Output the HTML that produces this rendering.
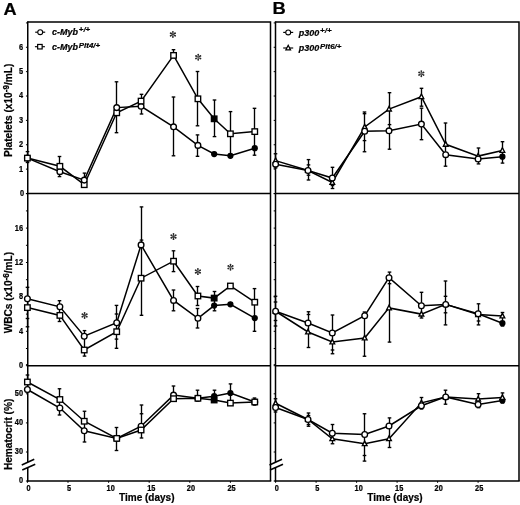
<!DOCTYPE html>
<html><head><meta charset="utf-8"><style>
html,body{margin:0;padding:0;background:#fff;width:520px;height:505px;overflow:hidden}
svg{display:block;font-family:"Liberation Sans", sans-serif;will-change:transform}
text{stroke:#000;stroke-width:0.22px;paint-order:stroke}
</style></head><body>
<svg width="520" height="505" viewBox="0 0 520 505">
<rect width="520" height="505" fill="#fff"/>
<path d="M27.75,22.0H270.5V481.0" fill="none" stroke="#000" stroke-width="1.5"/>
<line x1="27.75" y1="22.00" x2="27.75" y2="461.30" stroke="#000" stroke-width="1.5" stroke-linecap="square"/>
<line x1="27.75" y1="468.40" x2="27.75" y2="481.00" stroke="#000" stroke-width="1.5" stroke-linecap="square"/>
<line x1="27.75" y1="481.00" x2="270.50" y2="481.00" stroke="#000" stroke-width="1.5" stroke-linecap="square"/>
<line x1="27.75" y1="193.50" x2="270.50" y2="193.50" stroke="#000" stroke-width="1.5"/>
<line x1="27.75" y1="365.70" x2="270.50" y2="365.70" stroke="#000" stroke-width="1.5"/>
<line x1="21.75" y1="465.00" x2="34.25" y2="459.20" stroke="#000" stroke-width="1.5"/>
<line x1="22.25" y1="470.00" x2="35.25" y2="464.20" stroke="#000" stroke-width="1.5"/>
<line x1="25.95" y1="193.50" x2="27.75" y2="193.50" stroke="#000" stroke-width="1"/>
<line x1="25.95" y1="169.13" x2="27.75" y2="169.13" stroke="#000" stroke-width="1"/>
<line x1="25.95" y1="144.76" x2="27.75" y2="144.76" stroke="#000" stroke-width="1"/>
<line x1="25.95" y1="120.39" x2="27.75" y2="120.39" stroke="#000" stroke-width="1"/>
<line x1="25.95" y1="96.02" x2="27.75" y2="96.02" stroke="#000" stroke-width="1"/>
<line x1="25.95" y1="71.65" x2="27.75" y2="71.65" stroke="#000" stroke-width="1"/>
<line x1="25.95" y1="47.28" x2="27.75" y2="47.28" stroke="#000" stroke-width="1"/>
<line x1="25.95" y1="22.91" x2="27.75" y2="22.91" stroke="#000" stroke-width="1"/>
<line x1="25.95" y1="365.70" x2="27.75" y2="365.70" stroke="#000" stroke-width="1"/>
<line x1="25.95" y1="348.50" x2="27.75" y2="348.50" stroke="#000" stroke-width="1"/>
<line x1="25.95" y1="331.30" x2="27.75" y2="331.30" stroke="#000" stroke-width="1"/>
<line x1="25.95" y1="314.10" x2="27.75" y2="314.10" stroke="#000" stroke-width="1"/>
<line x1="25.95" y1="296.90" x2="27.75" y2="296.90" stroke="#000" stroke-width="1"/>
<line x1="25.95" y1="279.70" x2="27.75" y2="279.70" stroke="#000" stroke-width="1"/>
<line x1="25.95" y1="262.50" x2="27.75" y2="262.50" stroke="#000" stroke-width="1"/>
<line x1="25.95" y1="245.30" x2="27.75" y2="245.30" stroke="#000" stroke-width="1"/>
<line x1="25.95" y1="228.10" x2="27.75" y2="228.10" stroke="#000" stroke-width="1"/>
<line x1="25.95" y1="210.90" x2="27.75" y2="210.90" stroke="#000" stroke-width="1"/>
<line x1="25.95" y1="193.70" x2="27.75" y2="193.70" stroke="#000" stroke-width="1"/>
<line x1="25.95" y1="452.00" x2="27.75" y2="452.00" stroke="#000" stroke-width="1"/>
<line x1="25.95" y1="422.90" x2="27.75" y2="422.90" stroke="#000" stroke-width="1"/>
<line x1="25.95" y1="393.80" x2="27.75" y2="393.80" stroke="#000" stroke-width="1"/>
<line x1="25.95" y1="364.70" x2="27.75" y2="364.70" stroke="#000" stroke-width="1"/>
<line x1="25.95" y1="481.00" x2="27.75" y2="481.00" stroke="#000" stroke-width="1"/>
<path d="M275.5,22.0H519.0V481.0" fill="none" stroke="#000" stroke-width="1.5"/>
<line x1="275.50" y1="22.00" x2="275.50" y2="461.30" stroke="#000" stroke-width="1.5" stroke-linecap="square"/>
<line x1="275.50" y1="468.40" x2="275.50" y2="481.00" stroke="#000" stroke-width="1.5" stroke-linecap="square"/>
<line x1="275.50" y1="481.00" x2="519.00" y2="481.00" stroke="#000" stroke-width="1.5" stroke-linecap="square"/>
<line x1="275.50" y1="193.50" x2="519.00" y2="193.50" stroke="#000" stroke-width="1.5"/>
<line x1="275.50" y1="365.70" x2="519.00" y2="365.70" stroke="#000" stroke-width="1.5"/>
<line x1="269.50" y1="465.00" x2="282.00" y2="459.20" stroke="#000" stroke-width="1.5"/>
<line x1="270.00" y1="470.00" x2="283.00" y2="464.20" stroke="#000" stroke-width="1.5"/>
<line x1="273.70" y1="193.50" x2="275.50" y2="193.50" stroke="#000" stroke-width="1"/>
<line x1="273.70" y1="169.13" x2="275.50" y2="169.13" stroke="#000" stroke-width="1"/>
<line x1="273.70" y1="144.76" x2="275.50" y2="144.76" stroke="#000" stroke-width="1"/>
<line x1="273.70" y1="120.39" x2="275.50" y2="120.39" stroke="#000" stroke-width="1"/>
<line x1="273.70" y1="96.02" x2="275.50" y2="96.02" stroke="#000" stroke-width="1"/>
<line x1="273.70" y1="71.65" x2="275.50" y2="71.65" stroke="#000" stroke-width="1"/>
<line x1="273.70" y1="47.28" x2="275.50" y2="47.28" stroke="#000" stroke-width="1"/>
<line x1="273.70" y1="22.91" x2="275.50" y2="22.91" stroke="#000" stroke-width="1"/>
<line x1="273.70" y1="365.70" x2="275.50" y2="365.70" stroke="#000" stroke-width="1"/>
<line x1="273.70" y1="348.50" x2="275.50" y2="348.50" stroke="#000" stroke-width="1"/>
<line x1="273.70" y1="331.30" x2="275.50" y2="331.30" stroke="#000" stroke-width="1"/>
<line x1="273.70" y1="314.10" x2="275.50" y2="314.10" stroke="#000" stroke-width="1"/>
<line x1="273.70" y1="296.90" x2="275.50" y2="296.90" stroke="#000" stroke-width="1"/>
<line x1="273.70" y1="279.70" x2="275.50" y2="279.70" stroke="#000" stroke-width="1"/>
<line x1="273.70" y1="262.50" x2="275.50" y2="262.50" stroke="#000" stroke-width="1"/>
<line x1="273.70" y1="245.30" x2="275.50" y2="245.30" stroke="#000" stroke-width="1"/>
<line x1="273.70" y1="228.10" x2="275.50" y2="228.10" stroke="#000" stroke-width="1"/>
<line x1="273.70" y1="210.90" x2="275.50" y2="210.90" stroke="#000" stroke-width="1"/>
<line x1="273.70" y1="193.70" x2="275.50" y2="193.70" stroke="#000" stroke-width="1"/>
<line x1="273.70" y1="452.00" x2="275.50" y2="452.00" stroke="#000" stroke-width="1"/>
<line x1="273.70" y1="422.90" x2="275.50" y2="422.90" stroke="#000" stroke-width="1"/>
<line x1="273.70" y1="393.80" x2="275.50" y2="393.80" stroke="#000" stroke-width="1"/>
<line x1="273.70" y1="364.70" x2="275.50" y2="364.70" stroke="#000" stroke-width="1"/>
<line x1="273.70" y1="481.00" x2="275.50" y2="481.00" stroke="#000" stroke-width="1"/>
<line x1="27.40" y1="481.00" x2="27.40" y2="482.80" stroke="#000" stroke-width="1"/>
<text transform="translate(28.50,490.50) scale(0.92,1.1)" font-size="8" font-weight="bold" text-anchor="middle">0</text>
<line x1="275.60" y1="481.00" x2="275.60" y2="482.80" stroke="#000" stroke-width="1"/>
<text transform="translate(276.70,490.50) scale(0.92,1.1)" font-size="8" font-weight="bold" text-anchor="middle">0</text>
<line x1="68.00" y1="481.00" x2="68.00" y2="482.80" stroke="#000" stroke-width="1"/>
<text transform="translate(69.10,490.50) scale(0.92,1.1)" font-size="8" font-weight="bold" text-anchor="middle">5</text>
<line x1="316.10" y1="481.00" x2="316.10" y2="482.80" stroke="#000" stroke-width="1"/>
<text transform="translate(317.20,490.50) scale(0.92,1.1)" font-size="8" font-weight="bold" text-anchor="middle">5</text>
<line x1="108.60" y1="481.00" x2="108.60" y2="482.80" stroke="#000" stroke-width="1"/>
<text transform="translate(110.70,490.50) scale(0.92,1.1)" font-size="8" font-weight="bold" text-anchor="middle">10</text>
<line x1="356.60" y1="481.00" x2="356.60" y2="482.80" stroke="#000" stroke-width="1"/>
<text transform="translate(358.70,490.50) scale(0.92,1.1)" font-size="8" font-weight="bold" text-anchor="middle">10</text>
<line x1="149.20" y1="481.00" x2="149.20" y2="482.80" stroke="#000" stroke-width="1"/>
<text transform="translate(151.30,490.50) scale(0.92,1.1)" font-size="8" font-weight="bold" text-anchor="middle">15</text>
<line x1="397.10" y1="481.00" x2="397.10" y2="482.80" stroke="#000" stroke-width="1"/>
<text transform="translate(399.20,490.50) scale(0.92,1.1)" font-size="8" font-weight="bold" text-anchor="middle">15</text>
<line x1="189.80" y1="481.00" x2="189.80" y2="482.80" stroke="#000" stroke-width="1"/>
<text transform="translate(190.90,490.50) scale(0.92,1.1)" font-size="8" font-weight="bold" text-anchor="middle">20</text>
<line x1="437.60" y1="481.00" x2="437.60" y2="482.80" stroke="#000" stroke-width="1"/>
<text transform="translate(438.70,490.50) scale(0.92,1.1)" font-size="8" font-weight="bold" text-anchor="middle">20</text>
<line x1="230.40" y1="481.00" x2="230.40" y2="482.80" stroke="#000" stroke-width="1"/>
<text transform="translate(231.50,490.50) scale(0.92,1.1)" font-size="8" font-weight="bold" text-anchor="middle">25</text>
<line x1="478.10" y1="481.00" x2="478.10" y2="482.80" stroke="#000" stroke-width="1"/>
<text transform="translate(479.20,490.50) scale(0.92,1.1)" font-size="8" font-weight="bold" text-anchor="middle">25</text>
<text transform="translate(24.00,195.90) scale(0.92,1.1)" font-size="8" font-weight="bold" text-anchor="end">0</text>
<text transform="translate(23.00,171.53) scale(0.92,1.1)" font-size="8" font-weight="bold" text-anchor="end">1</text>
<text transform="translate(23.00,147.16) scale(0.92,1.1)" font-size="8" font-weight="bold" text-anchor="end">2</text>
<text transform="translate(23.00,122.79) scale(0.92,1.1)" font-size="8" font-weight="bold" text-anchor="end">3</text>
<text transform="translate(23.00,98.42) scale(0.92,1.1)" font-size="8" font-weight="bold" text-anchor="end">4</text>
<text transform="translate(23.00,74.05) scale(0.92,1.1)" font-size="8" font-weight="bold" text-anchor="end">5</text>
<text transform="translate(23.00,49.68) scale(0.92,1.1)" font-size="8" font-weight="bold" text-anchor="end">6</text>
<text transform="translate(23.00,368.10) scale(0.92,1.1)" font-size="8" font-weight="bold" text-anchor="end">0</text>
<text transform="translate(23.00,333.70) scale(0.92,1.1)" font-size="8" font-weight="bold" text-anchor="end">4</text>
<text transform="translate(23.00,299.30) scale(0.92,1.1)" font-size="8" font-weight="bold" text-anchor="end">8</text>
<text transform="translate(23.00,264.90) scale(0.92,1.1)" font-size="8" font-weight="bold" text-anchor="end">12</text>
<text transform="translate(23.00,230.50) scale(0.92,1.1)" font-size="8" font-weight="bold" text-anchor="end">16</text>
<text transform="translate(23.00,454.40) scale(0.92,1.1)" font-size="8" font-weight="bold" text-anchor="end">30</text>
<text transform="translate(23.00,425.30) scale(0.92,1.1)" font-size="8" font-weight="bold" text-anchor="end">40</text>
<text transform="translate(23.00,396.20) scale(0.92,1.1)" font-size="8" font-weight="bold" text-anchor="end">50</text>
<text transform="translate(23.00,483.40) scale(0.92,1.1)" font-size="8" font-weight="bold" text-anchor="end">0</text>
<text transform="translate(12.20,110.30) rotate(-90)" font-size="10.15" font-weight="bold" text-anchor="middle">Platelets (x10<tspan font-size="8.2" dy="-3.0">-9</tspan><tspan dy="3.0">/mL)</tspan></text>
<text transform="translate(12.10,292.60) rotate(-90)" font-size="10.15" font-weight="bold" text-anchor="middle">WBCs (x10<tspan font-size="8.2" dy="-3.0">-6</tspan><tspan dy="3.0">/mL)</tspan></text>
<text transform="translate(11.90,434.40) rotate(-90)" font-size="10.15" font-weight="bold" text-anchor="middle">Hematocrit (%)</text>
<text x="146.80" y="501.00" font-size="10" font-weight="bold" font-style="normal" text-anchor="middle" >Time (days)</text>
<text x="395.00" y="501.00" font-size="10" font-weight="bold" font-style="normal" text-anchor="middle" >Time (days)</text>
<text transform="translate(3.5,15.0) scale(1.07,1)" font-size="17" font-weight="bold">A</text>
<text transform="translate(272.4,14.4) scale(1.08,1)" font-size="17" font-weight="bold">B</text>
<line x1="35.20" y1="32.20" x2="45.20" y2="32.20" stroke="#000" stroke-width="1.15"/>
<circle cx="40.20" cy="32.20" r="2.45" fill="#fff" stroke="#000" stroke-width="1.1"/>
<text x="52.00" y="34.80" font-size="9" font-weight="bold" font-style="italic">c-Myb<tspan font-size="7.9" dx="0.8" dy="-2.9">+/+</tspan></text>
<line x1="34.90" y1="46.70" x2="44.90" y2="46.70" stroke="#000" stroke-width="1.15"/>
<rect x="37.65" y="44.45" width="4.50" height="4.50" fill="#fff" stroke="#000" stroke-width="1.2"/>
<text x="52.00" y="50.00" font-size="9" font-weight="bold" font-style="italic">c-Myb<tspan font-size="7.9" dx="0.8" dy="-2.2">Plt4/+</tspan></text>
<line x1="283.20" y1="32.40" x2="293.20" y2="32.40" stroke="#000" stroke-width="1.15"/>
<circle cx="288.20" cy="32.40" r="2.45" fill="#fff" stroke="#000" stroke-width="1.1"/>
<text x="298.80" y="35.70" font-size="9" font-weight="bold" font-style="italic">p300<tspan font-size="7.9" dx="0.8" dy="-3.1">+/+</tspan></text>
<line x1="283.20" y1="48.00" x2="293.20" y2="48.00" stroke="#000" stroke-width="1.15"/>
<polygon points="288.20,45.32 290.57,49.91 285.83,49.91" fill="#fff" stroke="#000" stroke-width="1.2" stroke-linejoin="miter"/>
<text x="298.80" y="51.30" font-size="9" font-weight="bold" font-style="italic">p300<tspan font-size="7.9" dx="0.8" dy="-2.4">Plt6/+</tspan></text>
<line x1="27.50" y1="151.60" x2="27.50" y2="162.50" stroke="#000" stroke-width="1.35"/>
<line x1="25.70" y1="151.60" x2="29.30" y2="151.60" stroke="#000" stroke-width="1.35"/>
<line x1="25.70" y1="162.50" x2="29.30" y2="162.50" stroke="#000" stroke-width="1.35"/>
<line x1="59.50" y1="156.50" x2="59.50" y2="176.60" stroke="#000" stroke-width="1.35"/>
<line x1="57.70" y1="156.50" x2="61.30" y2="156.50" stroke="#000" stroke-width="1.35"/>
<line x1="57.70" y1="176.60" x2="61.30" y2="176.60" stroke="#000" stroke-width="1.35"/>
<line x1="84.50" y1="173.10" x2="84.50" y2="186.50" stroke="#000" stroke-width="1.35"/>
<line x1="82.70" y1="173.10" x2="86.30" y2="173.10" stroke="#000" stroke-width="1.35"/>
<line x1="82.70" y1="186.50" x2="86.30" y2="186.50" stroke="#000" stroke-width="1.35"/>
<line x1="116.50" y1="81.80" x2="116.50" y2="132.70" stroke="#000" stroke-width="1.35"/>
<line x1="114.70" y1="81.80" x2="118.30" y2="81.80" stroke="#000" stroke-width="1.35"/>
<line x1="114.70" y1="132.70" x2="118.30" y2="132.70" stroke="#000" stroke-width="1.35"/>
<line x1="141.50" y1="94.30" x2="141.50" y2="114.00" stroke="#000" stroke-width="1.35"/>
<line x1="139.70" y1="94.30" x2="143.30" y2="94.30" stroke="#000" stroke-width="1.35"/>
<line x1="139.70" y1="114.00" x2="143.30" y2="114.00" stroke="#000" stroke-width="1.35"/>
<line x1="173.50" y1="49.70" x2="173.50" y2="57.00" stroke="#000" stroke-width="1.35"/>
<line x1="171.70" y1="49.70" x2="175.30" y2="49.70" stroke="#000" stroke-width="1.35"/>
<line x1="171.70" y1="57.00" x2="175.30" y2="57.00" stroke="#000" stroke-width="1.35"/>
<line x1="173.50" y1="97.00" x2="173.50" y2="155.80" stroke="#000" stroke-width="1.35"/>
<line x1="171.70" y1="97.00" x2="175.30" y2="97.00" stroke="#000" stroke-width="1.35"/>
<line x1="171.70" y1="155.80" x2="175.30" y2="155.80" stroke="#000" stroke-width="1.35"/>
<line x1="197.50" y1="71.50" x2="197.50" y2="125.80" stroke="#000" stroke-width="1.35"/>
<line x1="195.70" y1="71.50" x2="199.30" y2="71.50" stroke="#000" stroke-width="1.35"/>
<line x1="195.70" y1="125.80" x2="199.30" y2="125.80" stroke="#000" stroke-width="1.35"/>
<line x1="197.50" y1="134.90" x2="197.50" y2="156.30" stroke="#000" stroke-width="1.35"/>
<line x1="195.70" y1="134.90" x2="199.30" y2="134.90" stroke="#000" stroke-width="1.35"/>
<line x1="195.70" y1="156.30" x2="199.30" y2="156.30" stroke="#000" stroke-width="1.35"/>
<line x1="214.50" y1="100.00" x2="214.50" y2="136.60" stroke="#000" stroke-width="1.35"/>
<line x1="212.70" y1="100.00" x2="216.30" y2="100.00" stroke="#000" stroke-width="1.35"/>
<line x1="212.70" y1="136.60" x2="216.30" y2="136.60" stroke="#000" stroke-width="1.35"/>
<line x1="230.50" y1="111.60" x2="230.50" y2="155.80" stroke="#000" stroke-width="1.35"/>
<line x1="228.70" y1="111.60" x2="232.30" y2="111.60" stroke="#000" stroke-width="1.35"/>
<line x1="228.70" y1="155.80" x2="232.30" y2="155.80" stroke="#000" stroke-width="1.35"/>
<line x1="254.50" y1="108.30" x2="254.50" y2="155.20" stroke="#000" stroke-width="1.35"/>
<line x1="252.70" y1="108.30" x2="256.30" y2="108.30" stroke="#000" stroke-width="1.35"/>
<line x1="252.70" y1="155.20" x2="256.30" y2="155.20" stroke="#000" stroke-width="1.35"/>
<polyline points="27.40,158.10 59.88,166.30 84.24,184.70 116.72,112.80 141.08,101.10 173.56,55.40 197.92,98.80 214.16,118.80 230.40,133.80 254.76,131.60" fill="none" stroke="#000" stroke-width="1.5" stroke-linejoin="miter"/>
<polyline points="27.40,158.10 59.88,171.70 84.24,180.10 116.72,107.60 141.08,106.30 173.56,126.80 197.92,145.40 214.16,154.00 230.40,155.80 254.76,148.20" fill="none" stroke="#000" stroke-width="1.5" stroke-linejoin="miter"/>
<circle cx="27.40" cy="158.10" r="2.85" fill="#fff" stroke="#000" stroke-width="1.35"/>
<rect x="24.65" y="155.35" width="5.50" height="5.50" fill="#fff" stroke="#000" stroke-width="1.35"/>
<circle cx="59.88" cy="171.70" r="2.85" fill="#fff" stroke="#000" stroke-width="1.35"/>
<rect x="57.13" y="163.55" width="5.50" height="5.50" fill="#fff" stroke="#000" stroke-width="1.35"/>
<rect x="81.49" y="181.95" width="5.50" height="5.50" fill="#fff" stroke="#000" stroke-width="1.35"/>
<circle cx="84.24" cy="180.10" r="2.85" fill="#fff" stroke="#000" stroke-width="1.35"/>
<rect x="113.97" y="110.05" width="5.50" height="5.50" fill="#fff" stroke="#000" stroke-width="1.35"/>
<circle cx="116.72" cy="107.60" r="2.85" fill="#fff" stroke="#000" stroke-width="1.35"/>
<circle cx="141.08" cy="106.30" r="2.85" fill="#fff" stroke="#000" stroke-width="1.35"/>
<rect x="138.33" y="98.35" width="5.50" height="5.50" fill="#fff" stroke="#000" stroke-width="1.35"/>
<circle cx="173.56" cy="126.80" r="2.85" fill="#fff" stroke="#000" stroke-width="1.35"/>
<rect x="170.81" y="52.65" width="5.50" height="5.50" fill="#fff" stroke="#000" stroke-width="1.35"/>
<circle cx="197.92" cy="145.40" r="2.85" fill="#fff" stroke="#000" stroke-width="1.35"/>
<rect x="195.17" y="96.05" width="5.50" height="5.50" fill="#fff" stroke="#000" stroke-width="1.35"/>
<circle cx="214.16" cy="154.00" r="2.45" fill="#000" stroke="#000" stroke-width="1.35"/>
<rect x="211.41" y="116.05" width="5.50" height="5.50" fill="#000" stroke="#000" stroke-width="1.35"/>
<circle cx="230.40" cy="155.80" r="2.45" fill="#000" stroke="#000" stroke-width="1.35"/>
<rect x="227.65" y="131.05" width="5.50" height="5.50" fill="#fff" stroke="#000" stroke-width="1.35"/>
<circle cx="254.76" cy="148.20" r="2.45" fill="#000" stroke="#000" stroke-width="1.35"/>
<rect x="252.01" y="128.85" width="5.50" height="5.50" fill="#fff" stroke="#000" stroke-width="1.35"/>
<path d="M172.98,34.40L173.80,31.80A0.9,0.9 0 0 0 172.00,31.80L172.82,34.40ZM172.94,34.33L171.10,32.32A0.9,0.9 0 0 0 170.20,33.88L172.86,34.47ZM172.86,34.33L170.20,34.92A0.9,0.9 0 0 0 171.10,36.48L172.94,34.47ZM172.82,34.40L172.00,37.00A0.9,0.9 0 0 0 173.80,37.00L172.98,34.40ZM172.86,34.47L174.70,36.48A0.9,0.9 0 0 0 175.60,34.92L172.94,34.33ZM172.94,34.47L175.60,33.88A0.9,0.9 0 0 0 174.70,32.32L172.86,34.33Z" fill="#2a2a2a"/>
<path d="M198.28,57.20L199.10,54.60A0.9,0.9 0 0 0 197.30,54.60L198.12,57.20ZM198.24,57.13L196.40,55.12A0.9,0.9 0 0 0 195.50,56.68L198.16,57.27ZM198.16,57.13L195.50,57.72A0.9,0.9 0 0 0 196.40,59.28L198.24,57.27ZM198.12,57.20L197.30,59.80A0.9,0.9 0 0 0 199.10,59.80L198.28,57.20ZM198.16,57.27L200.00,59.28A0.9,0.9 0 0 0 200.90,57.72L198.24,57.13ZM198.24,57.27L200.90,56.68A0.9,0.9 0 0 0 200.00,55.12L198.16,57.13Z" fill="#2a2a2a"/>
<line x1="27.50" y1="287.30" x2="27.50" y2="326.80" stroke="#000" stroke-width="1.35"/>
<line x1="25.70" y1="287.30" x2="29.30" y2="287.30" stroke="#000" stroke-width="1.35"/>
<line x1="25.70" y1="326.80" x2="29.30" y2="326.80" stroke="#000" stroke-width="1.35"/>
<line x1="59.50" y1="300.70" x2="59.50" y2="321.50" stroke="#000" stroke-width="1.35"/>
<line x1="57.70" y1="300.70" x2="61.30" y2="300.70" stroke="#000" stroke-width="1.35"/>
<line x1="57.70" y1="321.50" x2="61.30" y2="321.50" stroke="#000" stroke-width="1.35"/>
<line x1="84.50" y1="330.60" x2="84.50" y2="356.10" stroke="#000" stroke-width="1.35"/>
<line x1="82.70" y1="330.60" x2="86.30" y2="330.60" stroke="#000" stroke-width="1.35"/>
<line x1="82.70" y1="356.10" x2="86.30" y2="356.10" stroke="#000" stroke-width="1.35"/>
<line x1="116.50" y1="305.40" x2="116.50" y2="348.30" stroke="#000" stroke-width="1.35"/>
<line x1="114.70" y1="305.40" x2="118.30" y2="305.40" stroke="#000" stroke-width="1.35"/>
<line x1="114.70" y1="348.30" x2="118.30" y2="348.30" stroke="#000" stroke-width="1.35"/>
<line x1="141.50" y1="206.90" x2="141.50" y2="315.30" stroke="#000" stroke-width="1.35"/>
<line x1="139.70" y1="206.90" x2="143.30" y2="206.90" stroke="#000" stroke-width="1.35"/>
<line x1="139.70" y1="315.30" x2="143.30" y2="315.30" stroke="#000" stroke-width="1.35"/>
<line x1="173.50" y1="250.80" x2="173.50" y2="271.60" stroke="#000" stroke-width="1.35"/>
<line x1="171.70" y1="250.80" x2="175.30" y2="250.80" stroke="#000" stroke-width="1.35"/>
<line x1="171.70" y1="271.60" x2="175.30" y2="271.60" stroke="#000" stroke-width="1.35"/>
<line x1="173.50" y1="290.00" x2="173.50" y2="310.80" stroke="#000" stroke-width="1.35"/>
<line x1="171.70" y1="290.00" x2="175.30" y2="290.00" stroke="#000" stroke-width="1.35"/>
<line x1="171.70" y1="310.80" x2="175.30" y2="310.80" stroke="#000" stroke-width="1.35"/>
<line x1="197.50" y1="286.50" x2="197.50" y2="305.50" stroke="#000" stroke-width="1.35"/>
<line x1="195.70" y1="286.50" x2="199.30" y2="286.50" stroke="#000" stroke-width="1.35"/>
<line x1="195.70" y1="305.50" x2="199.30" y2="305.50" stroke="#000" stroke-width="1.35"/>
<line x1="197.50" y1="308.50" x2="197.50" y2="328.00" stroke="#000" stroke-width="1.35"/>
<line x1="195.70" y1="308.50" x2="199.30" y2="308.50" stroke="#000" stroke-width="1.35"/>
<line x1="195.70" y1="328.00" x2="199.30" y2="328.00" stroke="#000" stroke-width="1.35"/>
<line x1="214.50" y1="291.50" x2="214.50" y2="310.80" stroke="#000" stroke-width="1.35"/>
<line x1="212.70" y1="291.50" x2="216.30" y2="291.50" stroke="#000" stroke-width="1.35"/>
<line x1="212.70" y1="310.80" x2="216.30" y2="310.80" stroke="#000" stroke-width="1.35"/>
<line x1="254.50" y1="288.60" x2="254.50" y2="331.30" stroke="#000" stroke-width="1.35"/>
<line x1="252.70" y1="288.60" x2="256.30" y2="288.60" stroke="#000" stroke-width="1.35"/>
<line x1="252.70" y1="331.30" x2="256.30" y2="331.30" stroke="#000" stroke-width="1.35"/>
<line x1="25.70" y1="318.50" x2="29.30" y2="318.50" stroke="#000" stroke-width="1.35"/>
<line x1="114.70" y1="314.00" x2="118.30" y2="314.00" stroke="#000" stroke-width="1.35"/>
<line x1="114.70" y1="339.10" x2="118.30" y2="339.10" stroke="#000" stroke-width="1.35"/>
<line x1="139.70" y1="240.10" x2="143.30" y2="240.10" stroke="#000" stroke-width="1.35"/>
<polyline points="27.40,298.70 59.88,306.80 84.24,336.20 116.72,322.80 141.08,244.90 173.56,300.40 197.92,318.30 214.16,305.60 230.40,304.30 254.76,318.10" fill="none" stroke="#000" stroke-width="1.5" stroke-linejoin="miter"/>
<polyline points="27.40,307.60 59.88,315.40 84.24,350.00 116.72,331.70 141.08,278.20 173.56,261.20 197.92,296.00 214.16,298.10 230.40,286.00 254.76,302.20" fill="none" stroke="#000" stroke-width="1.5" stroke-linejoin="miter"/>
<rect x="24.65" y="304.85" width="5.50" height="5.50" fill="#fff" stroke="#000" stroke-width="1.35"/>
<circle cx="27.40" cy="298.70" r="2.85" fill="#fff" stroke="#000" stroke-width="1.35"/>
<rect x="57.13" y="312.65" width="5.50" height="5.50" fill="#fff" stroke="#000" stroke-width="1.35"/>
<circle cx="59.88" cy="306.80" r="2.85" fill="#fff" stroke="#000" stroke-width="1.35"/>
<rect x="81.49" y="347.25" width="5.50" height="5.50" fill="#fff" stroke="#000" stroke-width="1.35"/>
<circle cx="84.24" cy="336.20" r="2.85" fill="#fff" stroke="#000" stroke-width="1.35"/>
<rect x="113.97" y="328.95" width="5.50" height="5.50" fill="#fff" stroke="#000" stroke-width="1.35"/>
<circle cx="116.72" cy="322.80" r="2.85" fill="#fff" stroke="#000" stroke-width="1.35"/>
<rect x="138.33" y="275.45" width="5.50" height="5.50" fill="#fff" stroke="#000" stroke-width="1.35"/>
<circle cx="141.08" cy="244.90" r="2.85" fill="#fff" stroke="#000" stroke-width="1.35"/>
<rect x="170.81" y="258.45" width="5.50" height="5.50" fill="#fff" stroke="#000" stroke-width="1.35"/>
<circle cx="173.56" cy="300.40" r="2.85" fill="#fff" stroke="#000" stroke-width="1.35"/>
<rect x="195.17" y="293.25" width="5.50" height="5.50" fill="#fff" stroke="#000" stroke-width="1.35"/>
<circle cx="197.92" cy="318.30" r="2.85" fill="#fff" stroke="#000" stroke-width="1.35"/>
<rect x="211.41" y="295.35" width="5.50" height="5.50" fill="#000" stroke="#000" stroke-width="1.35"/>
<circle cx="214.16" cy="305.60" r="2.45" fill="#000" stroke="#000" stroke-width="1.35"/>
<rect x="227.65" y="283.25" width="5.50" height="5.50" fill="#fff" stroke="#000" stroke-width="1.35"/>
<circle cx="230.40" cy="304.30" r="2.45" fill="#000" stroke="#000" stroke-width="1.35"/>
<rect x="252.01" y="299.45" width="5.50" height="5.50" fill="#fff" stroke="#000" stroke-width="1.35"/>
<circle cx="254.76" cy="318.10" r="2.45" fill="#000" stroke="#000" stroke-width="1.35"/>
<path d="M84.68,315.40L85.50,312.80A0.9,0.9 0 0 0 83.70,312.80L84.52,315.40ZM84.64,315.33L82.80,313.32A0.9,0.9 0 0 0 81.90,314.88L84.56,315.47ZM84.56,315.33L81.90,315.92A0.9,0.9 0 0 0 82.80,317.48L84.64,315.47ZM84.52,315.40L83.70,318.00A0.9,0.9 0 0 0 85.50,318.00L84.68,315.40ZM84.56,315.47L86.40,317.48A0.9,0.9 0 0 0 87.30,315.92L84.64,315.33ZM84.64,315.47L87.30,314.88A0.9,0.9 0 0 0 86.40,313.32L84.56,315.33Z" fill="#2a2a2a"/>
<path d="M173.58,236.60L174.40,234.00A0.9,0.9 0 0 0 172.60,234.00L173.42,236.60ZM173.54,236.53L171.70,234.52A0.9,0.9 0 0 0 170.80,236.08L173.46,236.67ZM173.46,236.53L170.80,237.12A0.9,0.9 0 0 0 171.70,238.68L173.54,236.67ZM173.42,236.60L172.60,239.20A0.9,0.9 0 0 0 174.40,239.20L173.58,236.60ZM173.46,236.67L175.30,238.68A0.9,0.9 0 0 0 176.20,237.12L173.54,236.53ZM173.54,236.67L176.20,236.08A0.9,0.9 0 0 0 175.30,234.52L173.46,236.53Z" fill="#2a2a2a"/>
<path d="M197.98,271.60L198.80,269.00A0.9,0.9 0 0 0 197.00,269.00L197.82,271.60ZM197.94,271.53L196.10,269.52A0.9,0.9 0 0 0 195.20,271.08L197.86,271.67ZM197.86,271.53L195.20,272.12A0.9,0.9 0 0 0 196.10,273.68L197.94,271.67ZM197.82,271.60L197.00,274.20A0.9,0.9 0 0 0 198.80,274.20L197.98,271.60ZM197.86,271.67L199.70,273.68A0.9,0.9 0 0 0 200.60,272.12L197.94,271.53ZM197.94,271.67L200.60,271.08A0.9,0.9 0 0 0 199.70,269.52L197.86,271.53Z" fill="#2a2a2a"/>
<path d="M230.58,267.20L231.40,264.60A0.9,0.9 0 0 0 229.60,264.60L230.42,267.20ZM230.54,267.13L228.70,265.12A0.9,0.9 0 0 0 227.80,266.68L230.46,267.27ZM230.46,267.13L227.80,267.72A0.9,0.9 0 0 0 228.70,269.28L230.54,267.27ZM230.42,267.20L229.60,269.80A0.9,0.9 0 0 0 231.40,269.80L230.58,267.20ZM230.46,267.27L232.30,269.28A0.9,0.9 0 0 0 233.20,267.72L230.54,267.13ZM230.54,267.27L233.20,266.68A0.9,0.9 0 0 0 232.30,265.12L230.46,267.13Z" fill="#2a2a2a"/>
<line x1="27.50" y1="375.00" x2="27.50" y2="392.00" stroke="#000" stroke-width="1.35"/>
<line x1="25.70" y1="375.00" x2="29.30" y2="375.00" stroke="#000" stroke-width="1.35"/>
<line x1="25.70" y1="392.00" x2="29.30" y2="392.00" stroke="#000" stroke-width="1.35"/>
<line x1="59.50" y1="388.75" x2="59.50" y2="415.00" stroke="#000" stroke-width="1.35"/>
<line x1="57.70" y1="388.75" x2="61.30" y2="388.75" stroke="#000" stroke-width="1.35"/>
<line x1="57.70" y1="415.00" x2="61.30" y2="415.00" stroke="#000" stroke-width="1.35"/>
<line x1="84.50" y1="411.25" x2="84.50" y2="442.00" stroke="#000" stroke-width="1.35"/>
<line x1="82.70" y1="411.25" x2="86.30" y2="411.25" stroke="#000" stroke-width="1.35"/>
<line x1="82.70" y1="442.00" x2="86.30" y2="442.00" stroke="#000" stroke-width="1.35"/>
<line x1="116.50" y1="427.50" x2="116.50" y2="450.50" stroke="#000" stroke-width="1.35"/>
<line x1="114.70" y1="427.50" x2="118.30" y2="427.50" stroke="#000" stroke-width="1.35"/>
<line x1="114.70" y1="450.50" x2="118.30" y2="450.50" stroke="#000" stroke-width="1.35"/>
<line x1="141.50" y1="405.00" x2="141.50" y2="438.00" stroke="#000" stroke-width="1.35"/>
<line x1="139.70" y1="405.00" x2="143.30" y2="405.00" stroke="#000" stroke-width="1.35"/>
<line x1="139.70" y1="438.00" x2="143.30" y2="438.00" stroke="#000" stroke-width="1.35"/>
<line x1="173.50" y1="386.00" x2="173.50" y2="400.00" stroke="#000" stroke-width="1.35"/>
<line x1="171.70" y1="386.00" x2="175.30" y2="386.00" stroke="#000" stroke-width="1.35"/>
<line x1="171.70" y1="400.00" x2="175.30" y2="400.00" stroke="#000" stroke-width="1.35"/>
<line x1="197.50" y1="390.20" x2="197.50" y2="401.00" stroke="#000" stroke-width="1.35"/>
<line x1="195.70" y1="390.20" x2="199.30" y2="390.20" stroke="#000" stroke-width="1.35"/>
<line x1="195.70" y1="401.00" x2="199.30" y2="401.00" stroke="#000" stroke-width="1.35"/>
<line x1="214.50" y1="390.20" x2="214.50" y2="402.00" stroke="#000" stroke-width="1.35"/>
<line x1="212.70" y1="390.20" x2="216.30" y2="390.20" stroke="#000" stroke-width="1.35"/>
<line x1="212.70" y1="402.00" x2="216.30" y2="402.00" stroke="#000" stroke-width="1.35"/>
<line x1="230.50" y1="383.90" x2="230.50" y2="405.00" stroke="#000" stroke-width="1.35"/>
<line x1="228.70" y1="383.90" x2="232.30" y2="383.90" stroke="#000" stroke-width="1.35"/>
<line x1="228.70" y1="405.00" x2="232.30" y2="405.00" stroke="#000" stroke-width="1.35"/>
<line x1="254.50" y1="398.00" x2="254.50" y2="405.00" stroke="#000" stroke-width="1.35"/>
<line x1="252.70" y1="398.00" x2="256.30" y2="398.00" stroke="#000" stroke-width="1.35"/>
<line x1="252.70" y1="405.00" x2="256.30" y2="405.00" stroke="#000" stroke-width="1.35"/>
<line x1="139.70" y1="413.75" x2="143.30" y2="413.75" stroke="#000" stroke-width="1.35"/>
<polyline points="27.40,382.00 59.88,399.50 84.24,421.25 116.72,438.40 141.08,430.00 173.56,398.70 197.92,398.30 214.16,400.00 230.40,403.10 254.76,402.00" fill="none" stroke="#000" stroke-width="1.5" stroke-linejoin="miter"/>
<polyline points="27.40,389.50 59.88,408.00 84.24,430.75 116.72,438.40 141.08,426.25 173.56,395.10 197.92,398.30 214.16,396.20 230.40,393.00 254.76,402.00" fill="none" stroke="#000" stroke-width="1.5" stroke-linejoin="miter"/>
<circle cx="27.40" cy="389.50" r="2.85" fill="#fff" stroke="#000" stroke-width="1.35"/>
<rect x="24.65" y="379.25" width="5.50" height="5.50" fill="#fff" stroke="#000" stroke-width="1.35"/>
<circle cx="59.88" cy="408.00" r="2.85" fill="#fff" stroke="#000" stroke-width="1.35"/>
<rect x="57.13" y="396.75" width="5.50" height="5.50" fill="#fff" stroke="#000" stroke-width="1.35"/>
<circle cx="84.24" cy="430.75" r="2.85" fill="#fff" stroke="#000" stroke-width="1.35"/>
<rect x="81.49" y="418.50" width="5.50" height="5.50" fill="#fff" stroke="#000" stroke-width="1.35"/>
<circle cx="116.72" cy="438.40" r="2.85" fill="#fff" stroke="#000" stroke-width="1.35"/>
<rect x="113.97" y="435.65" width="5.50" height="5.50" fill="#fff" stroke="#000" stroke-width="1.35"/>
<circle cx="141.08" cy="426.25" r="2.85" fill="#fff" stroke="#000" stroke-width="1.35"/>
<rect x="138.33" y="427.25" width="5.50" height="5.50" fill="#fff" stroke="#000" stroke-width="1.35"/>
<circle cx="173.56" cy="395.10" r="2.85" fill="#fff" stroke="#000" stroke-width="1.35"/>
<rect x="170.81" y="395.95" width="5.50" height="5.50" fill="#fff" stroke="#000" stroke-width="1.35"/>
<circle cx="197.92" cy="398.30" r="2.85" fill="#fff" stroke="#000" stroke-width="1.35"/>
<rect x="195.17" y="395.55" width="5.50" height="5.50" fill="#fff" stroke="#000" stroke-width="1.35"/>
<circle cx="214.16" cy="396.20" r="2.45" fill="#000" stroke="#000" stroke-width="1.35"/>
<rect x="211.41" y="397.25" width="5.50" height="5.50" fill="#000" stroke="#000" stroke-width="1.35"/>
<circle cx="230.40" cy="393.00" r="2.45" fill="#000" stroke="#000" stroke-width="1.35"/>
<rect x="227.65" y="400.35" width="5.50" height="5.50" fill="#fff" stroke="#000" stroke-width="1.35"/>
<circle cx="254.76" cy="402.00" r="2.85" fill="#fff" stroke="#000" stroke-width="1.35"/>
<rect x="252.01" y="399.25" width="5.50" height="5.50" fill="#fff" stroke="#000" stroke-width="1.35"/>
<line x1="275.50" y1="153.75" x2="275.50" y2="168.00" stroke="#000" stroke-width="1.35"/>
<line x1="273.70" y1="153.75" x2="277.30" y2="153.75" stroke="#000" stroke-width="1.35"/>
<line x1="273.70" y1="168.00" x2="277.30" y2="168.00" stroke="#000" stroke-width="1.35"/>
<line x1="308.50" y1="159.60" x2="308.50" y2="180.00" stroke="#000" stroke-width="1.35"/>
<line x1="306.70" y1="159.60" x2="310.30" y2="159.60" stroke="#000" stroke-width="1.35"/>
<line x1="306.70" y1="180.00" x2="310.30" y2="180.00" stroke="#000" stroke-width="1.35"/>
<line x1="332.50" y1="167.30" x2="332.50" y2="188.50" stroke="#000" stroke-width="1.35"/>
<line x1="330.70" y1="167.30" x2="334.30" y2="167.30" stroke="#000" stroke-width="1.35"/>
<line x1="330.70" y1="188.50" x2="334.30" y2="188.50" stroke="#000" stroke-width="1.35"/>
<line x1="364.50" y1="112.00" x2="364.50" y2="151.75" stroke="#000" stroke-width="1.35"/>
<line x1="362.70" y1="112.00" x2="366.30" y2="112.00" stroke="#000" stroke-width="1.35"/>
<line x1="362.70" y1="151.75" x2="366.30" y2="151.75" stroke="#000" stroke-width="1.35"/>
<line x1="389.50" y1="92.70" x2="389.50" y2="149.20" stroke="#000" stroke-width="1.35"/>
<line x1="387.70" y1="92.70" x2="391.30" y2="92.70" stroke="#000" stroke-width="1.35"/>
<line x1="387.70" y1="149.20" x2="391.30" y2="149.20" stroke="#000" stroke-width="1.35"/>
<line x1="421.50" y1="88.30" x2="421.50" y2="106.20" stroke="#000" stroke-width="1.35"/>
<line x1="419.70" y1="88.30" x2="423.30" y2="88.30" stroke="#000" stroke-width="1.35"/>
<line x1="419.70" y1="106.20" x2="423.30" y2="106.20" stroke="#000" stroke-width="1.35"/>
<line x1="421.50" y1="108.20" x2="421.50" y2="139.70" stroke="#000" stroke-width="1.35"/>
<line x1="419.70" y1="108.20" x2="423.30" y2="108.20" stroke="#000" stroke-width="1.35"/>
<line x1="419.70" y1="139.70" x2="423.30" y2="139.70" stroke="#000" stroke-width="1.35"/>
<line x1="445.50" y1="123.00" x2="445.50" y2="166.20" stroke="#000" stroke-width="1.35"/>
<line x1="443.70" y1="123.00" x2="447.30" y2="123.00" stroke="#000" stroke-width="1.35"/>
<line x1="443.70" y1="166.20" x2="447.30" y2="166.20" stroke="#000" stroke-width="1.35"/>
<line x1="478.50" y1="148.00" x2="478.50" y2="163.90" stroke="#000" stroke-width="1.35"/>
<line x1="476.70" y1="148.00" x2="480.30" y2="148.00" stroke="#000" stroke-width="1.35"/>
<line x1="476.70" y1="163.90" x2="480.30" y2="163.90" stroke="#000" stroke-width="1.35"/>
<line x1="502.50" y1="141.70" x2="502.50" y2="163.10" stroke="#000" stroke-width="1.35"/>
<line x1="500.70" y1="141.70" x2="504.30" y2="141.70" stroke="#000" stroke-width="1.35"/>
<line x1="500.70" y1="163.10" x2="504.30" y2="163.10" stroke="#000" stroke-width="1.35"/>
<line x1="306.70" y1="164.90" x2="310.30" y2="164.90" stroke="#000" stroke-width="1.35"/>
<line x1="306.70" y1="175.20" x2="310.30" y2="175.20" stroke="#000" stroke-width="1.35"/>
<line x1="330.70" y1="185.60" x2="334.30" y2="185.60" stroke="#000" stroke-width="1.35"/>
<line x1="362.70" y1="113.70" x2="366.30" y2="113.70" stroke="#000" stroke-width="1.35"/>
<line x1="362.70" y1="140.60" x2="366.30" y2="140.60" stroke="#000" stroke-width="1.35"/>
<line x1="387.70" y1="124.60" x2="391.30" y2="124.60" stroke="#000" stroke-width="1.35"/>
<polyline points="275.60,164.20 308.00,170.50 332.30,178.00 364.70,131.25 389.00,130.80 421.40,124.10 445.70,154.70 478.10,159.00 502.40,156.70" fill="none" stroke="#000" stroke-width="1.5" stroke-linejoin="miter"/>
<polyline points="275.60,160.60 308.00,170.50 332.30,182.50 364.70,127.00 389.00,109.10 421.40,96.70 445.70,144.30 478.10,156.10 502.40,150.40" fill="none" stroke="#000" stroke-width="1.5" stroke-linejoin="miter"/>
<polygon points="275.60,157.92 277.97,162.51 273.23,162.51" fill="#fff" stroke="#000" stroke-width="1.35" stroke-linejoin="miter"/>
<circle cx="275.60" cy="164.20" r="2.85" fill="#fff" stroke="#000" stroke-width="1.35"/>
<polygon points="308.00,167.82 310.37,172.41 305.63,172.41" fill="#fff" stroke="#000" stroke-width="1.35" stroke-linejoin="miter"/>
<circle cx="308.00" cy="170.50" r="2.85" fill="#fff" stroke="#000" stroke-width="1.35"/>
<polygon points="332.30,179.82 334.67,184.41 329.93,184.41" fill="#fff" stroke="#000" stroke-width="1.35" stroke-linejoin="miter"/>
<circle cx="332.30" cy="178.00" r="2.85" fill="#fff" stroke="#000" stroke-width="1.35"/>
<polygon points="364.70,124.32 367.07,128.91 362.33,128.91" fill="#fff" stroke="#000" stroke-width="1.35" stroke-linejoin="miter"/>
<circle cx="364.70" cy="131.25" r="2.85" fill="#fff" stroke="#000" stroke-width="1.35"/>
<polygon points="389.00,106.42 391.37,111.01 386.63,111.01" fill="#fff" stroke="#000" stroke-width="1.35" stroke-linejoin="miter"/>
<circle cx="389.00" cy="130.80" r="2.85" fill="#fff" stroke="#000" stroke-width="1.35"/>
<polygon points="421.40,94.02 423.77,98.61 419.03,98.61" fill="#fff" stroke="#000" stroke-width="1.35" stroke-linejoin="miter"/>
<circle cx="421.40" cy="124.10" r="2.85" fill="#fff" stroke="#000" stroke-width="1.35"/>
<polygon points="445.70,141.62 448.07,146.21 443.33,146.21" fill="#fff" stroke="#000" stroke-width="1.35" stroke-linejoin="miter"/>
<circle cx="445.70" cy="154.70" r="2.85" fill="#fff" stroke="#000" stroke-width="1.35"/>
<polygon points="478.10,153.42 480.47,158.01 475.73,158.01" fill="#fff" stroke="#000" stroke-width="1.35" stroke-linejoin="miter"/>
<circle cx="478.10" cy="159.00" r="2.85" fill="#fff" stroke="#000" stroke-width="1.35"/>
<circle cx="502.40" cy="156.70" r="2.45" fill="#000" stroke="#000" stroke-width="1.35"/>
<polygon points="502.40,147.72 504.77,152.31 500.03,152.31" fill="#fff" stroke="#000" stroke-width="1.35" stroke-linejoin="miter"/>
<path d="M421.38,73.70L422.20,71.10A0.9,0.9 0 0 0 420.40,71.10L421.22,73.70ZM421.34,73.63L419.50,71.62A0.9,0.9 0 0 0 418.60,73.18L421.26,73.77ZM421.26,73.63L418.60,74.22A0.9,0.9 0 0 0 419.50,75.78L421.34,73.77ZM421.22,73.70L420.40,76.30A0.9,0.9 0 0 0 422.20,76.30L421.38,73.70ZM421.26,73.77L423.10,75.78A0.9,0.9 0 0 0 424.00,74.22L421.34,73.63ZM421.34,73.77L424.00,73.18A0.9,0.9 0 0 0 423.10,71.62L421.26,73.63Z" fill="#2a2a2a"/>
<line x1="275.50" y1="296.25" x2="275.50" y2="326.00" stroke="#000" stroke-width="1.35"/>
<line x1="273.70" y1="296.25" x2="277.30" y2="296.25" stroke="#000" stroke-width="1.35"/>
<line x1="273.70" y1="326.00" x2="277.30" y2="326.00" stroke="#000" stroke-width="1.35"/>
<line x1="308.50" y1="311.75" x2="308.50" y2="347.50" stroke="#000" stroke-width="1.35"/>
<line x1="306.70" y1="311.75" x2="310.30" y2="311.75" stroke="#000" stroke-width="1.35"/>
<line x1="306.70" y1="347.50" x2="310.30" y2="347.50" stroke="#000" stroke-width="1.35"/>
<line x1="332.50" y1="315.00" x2="332.50" y2="353.75" stroke="#000" stroke-width="1.35"/>
<line x1="330.70" y1="315.00" x2="334.30" y2="315.00" stroke="#000" stroke-width="1.35"/>
<line x1="330.70" y1="353.75" x2="334.30" y2="353.75" stroke="#000" stroke-width="1.35"/>
<line x1="364.50" y1="312.00" x2="364.50" y2="356.25" stroke="#000" stroke-width="1.35"/>
<line x1="362.70" y1="312.00" x2="366.30" y2="312.00" stroke="#000" stroke-width="1.35"/>
<line x1="362.70" y1="356.25" x2="366.30" y2="356.25" stroke="#000" stroke-width="1.35"/>
<line x1="389.50" y1="272.10" x2="389.50" y2="342.10" stroke="#000" stroke-width="1.35"/>
<line x1="387.70" y1="272.10" x2="391.30" y2="272.10" stroke="#000" stroke-width="1.35"/>
<line x1="387.70" y1="342.10" x2="391.30" y2="342.10" stroke="#000" stroke-width="1.35"/>
<line x1="421.50" y1="292.30" x2="421.50" y2="318.00" stroke="#000" stroke-width="1.35"/>
<line x1="419.70" y1="292.30" x2="423.30" y2="292.30" stroke="#000" stroke-width="1.35"/>
<line x1="419.70" y1="318.00" x2="423.30" y2="318.00" stroke="#000" stroke-width="1.35"/>
<line x1="445.50" y1="281.00" x2="445.50" y2="324.90" stroke="#000" stroke-width="1.35"/>
<line x1="443.70" y1="281.00" x2="447.30" y2="281.00" stroke="#000" stroke-width="1.35"/>
<line x1="443.70" y1="324.90" x2="447.30" y2="324.90" stroke="#000" stroke-width="1.35"/>
<line x1="478.50" y1="303.80" x2="478.50" y2="324.90" stroke="#000" stroke-width="1.35"/>
<line x1="476.70" y1="303.80" x2="480.30" y2="303.80" stroke="#000" stroke-width="1.35"/>
<line x1="476.70" y1="324.90" x2="480.30" y2="324.90" stroke="#000" stroke-width="1.35"/>
<line x1="502.50" y1="312.50" x2="502.50" y2="326.00" stroke="#000" stroke-width="1.35"/>
<line x1="500.70" y1="312.50" x2="504.30" y2="312.50" stroke="#000" stroke-width="1.35"/>
<line x1="500.70" y1="326.00" x2="504.30" y2="326.00" stroke="#000" stroke-width="1.35"/>
<line x1="273.70" y1="302.00" x2="277.30" y2="302.00" stroke="#000" stroke-width="1.35"/>
<line x1="273.70" y1="320.50" x2="277.30" y2="320.50" stroke="#000" stroke-width="1.35"/>
<line x1="306.70" y1="314.50" x2="310.30" y2="314.50" stroke="#000" stroke-width="1.35"/>
<line x1="330.70" y1="350.00" x2="334.30" y2="350.00" stroke="#000" stroke-width="1.35"/>
<line x1="387.70" y1="283.70" x2="391.30" y2="283.70" stroke="#000" stroke-width="1.35"/>
<line x1="443.70" y1="296.30" x2="447.30" y2="296.30" stroke="#000" stroke-width="1.35"/>
<line x1="443.70" y1="312.80" x2="447.30" y2="312.80" stroke="#000" stroke-width="1.35"/>
<line x1="476.70" y1="321.00" x2="480.30" y2="321.00" stroke="#000" stroke-width="1.35"/>
<polyline points="275.60,311.25 308.00,323.00 332.30,333.00 364.70,315.75 389.00,277.70 421.40,305.70 445.70,304.40 478.10,313.80 502.40,323.20" fill="none" stroke="#000" stroke-width="1.5" stroke-linejoin="miter"/>
<polyline points="275.60,311.25 308.00,332.00 332.30,342.00 364.70,338.00 389.00,307.90 421.40,314.10 445.70,304.40 478.10,314.60 502.40,316.00" fill="none" stroke="#000" stroke-width="1.5" stroke-linejoin="miter"/>
<polygon points="275.60,308.57 277.97,313.16 273.23,313.16" fill="#fff" stroke="#000" stroke-width="1.35" stroke-linejoin="miter"/>
<circle cx="275.60" cy="311.25" r="2.85" fill="#fff" stroke="#000" stroke-width="1.35"/>
<polygon points="308.00,329.32 310.37,333.91 305.63,333.91" fill="#fff" stroke="#000" stroke-width="1.35" stroke-linejoin="miter"/>
<circle cx="308.00" cy="323.00" r="2.85" fill="#fff" stroke="#000" stroke-width="1.35"/>
<polygon points="332.30,339.32 334.67,343.91 329.93,343.91" fill="#fff" stroke="#000" stroke-width="1.35" stroke-linejoin="miter"/>
<circle cx="332.30" cy="333.00" r="2.85" fill="#fff" stroke="#000" stroke-width="1.35"/>
<polygon points="364.70,335.32 367.07,339.91 362.33,339.91" fill="#fff" stroke="#000" stroke-width="1.35" stroke-linejoin="miter"/>
<circle cx="364.70" cy="315.75" r="2.85" fill="#fff" stroke="#000" stroke-width="1.35"/>
<polygon points="389.00,305.22 391.37,309.81 386.63,309.81" fill="#fff" stroke="#000" stroke-width="1.35" stroke-linejoin="miter"/>
<circle cx="389.00" cy="277.70" r="2.85" fill="#fff" stroke="#000" stroke-width="1.35"/>
<polygon points="421.40,311.42 423.77,316.01 419.03,316.01" fill="#fff" stroke="#000" stroke-width="1.35" stroke-linejoin="miter"/>
<circle cx="421.40" cy="305.70" r="2.85" fill="#fff" stroke="#000" stroke-width="1.35"/>
<polygon points="445.70,301.72 448.07,306.31 443.33,306.31" fill="#fff" stroke="#000" stroke-width="1.35" stroke-linejoin="miter"/>
<circle cx="445.70" cy="304.40" r="2.85" fill="#fff" stroke="#000" stroke-width="1.35"/>
<polygon points="478.10,311.92 480.47,316.51 475.73,316.51" fill="#fff" stroke="#000" stroke-width="1.35" stroke-linejoin="miter"/>
<circle cx="478.10" cy="313.80" r="2.85" fill="#fff" stroke="#000" stroke-width="1.35"/>
<polygon points="502.40,313.32 504.77,317.91 500.03,317.91" fill="#fff" stroke="#000" stroke-width="1.35" stroke-linejoin="miter"/>
<circle cx="502.40" cy="323.20" r="2.45" fill="#000" stroke="#000" stroke-width="1.35"/>
<line x1="275.50" y1="398.75" x2="275.50" y2="412.00" stroke="#000" stroke-width="1.35"/>
<line x1="273.70" y1="398.75" x2="277.30" y2="398.75" stroke="#000" stroke-width="1.35"/>
<line x1="273.70" y1="412.00" x2="277.30" y2="412.00" stroke="#000" stroke-width="1.35"/>
<line x1="308.50" y1="413.00" x2="308.50" y2="426.25" stroke="#000" stroke-width="1.35"/>
<line x1="306.70" y1="413.00" x2="310.30" y2="413.00" stroke="#000" stroke-width="1.35"/>
<line x1="306.70" y1="426.25" x2="310.30" y2="426.25" stroke="#000" stroke-width="1.35"/>
<line x1="332.50" y1="424.50" x2="332.50" y2="443.75" stroke="#000" stroke-width="1.35"/>
<line x1="330.70" y1="424.50" x2="334.30" y2="424.50" stroke="#000" stroke-width="1.35"/>
<line x1="330.70" y1="443.75" x2="334.30" y2="443.75" stroke="#000" stroke-width="1.35"/>
<line x1="364.50" y1="413.75" x2="364.50" y2="461.10" stroke="#000" stroke-width="1.35"/>
<line x1="362.70" y1="413.75" x2="366.30" y2="413.75" stroke="#000" stroke-width="1.35"/>
<line x1="362.70" y1="461.10" x2="366.30" y2="461.10" stroke="#000" stroke-width="1.35"/>
<line x1="389.50" y1="417.90" x2="389.50" y2="447.50" stroke="#000" stroke-width="1.35"/>
<line x1="387.70" y1="417.90" x2="391.30" y2="417.90" stroke="#000" stroke-width="1.35"/>
<line x1="387.70" y1="447.50" x2="391.30" y2="447.50" stroke="#000" stroke-width="1.35"/>
<line x1="421.50" y1="397.50" x2="421.50" y2="409.00" stroke="#000" stroke-width="1.35"/>
<line x1="419.70" y1="397.50" x2="423.30" y2="397.50" stroke="#000" stroke-width="1.35"/>
<line x1="419.70" y1="409.00" x2="423.30" y2="409.00" stroke="#000" stroke-width="1.35"/>
<line x1="445.50" y1="390.20" x2="445.50" y2="404.20" stroke="#000" stroke-width="1.35"/>
<line x1="443.70" y1="390.20" x2="447.30" y2="390.20" stroke="#000" stroke-width="1.35"/>
<line x1="443.70" y1="404.20" x2="447.30" y2="404.20" stroke="#000" stroke-width="1.35"/>
<line x1="478.50" y1="393.70" x2="478.50" y2="407.70" stroke="#000" stroke-width="1.35"/>
<line x1="476.70" y1="393.70" x2="480.30" y2="393.70" stroke="#000" stroke-width="1.35"/>
<line x1="476.70" y1="407.70" x2="480.30" y2="407.70" stroke="#000" stroke-width="1.35"/>
<line x1="502.50" y1="392.90" x2="502.50" y2="403.00" stroke="#000" stroke-width="1.35"/>
<line x1="500.70" y1="392.90" x2="504.30" y2="392.90" stroke="#000" stroke-width="1.35"/>
<line x1="500.70" y1="403.00" x2="504.30" y2="403.00" stroke="#000" stroke-width="1.35"/>
<line x1="362.70" y1="455.50" x2="366.30" y2="455.50" stroke="#000" stroke-width="1.35"/>
<line x1="306.70" y1="415.50" x2="310.30" y2="415.50" stroke="#000" stroke-width="1.35"/>
<line x1="306.70" y1="424.50" x2="310.30" y2="424.50" stroke="#000" stroke-width="1.35"/>
<polyline points="275.60,407.50 308.00,419.50 332.30,433.25 364.70,434.50 389.00,426.00 421.40,405.80 445.70,396.90 478.10,404.50 502.40,400.40" fill="none" stroke="#000" stroke-width="1.5" stroke-linejoin="miter"/>
<polyline points="275.60,403.25 308.00,419.50 332.30,438.75 364.70,443.75 389.00,438.70 421.40,402.80 445.70,396.90 478.10,399.10 502.40,397.50" fill="none" stroke="#000" stroke-width="1.5" stroke-linejoin="miter"/>
<polygon points="275.60,400.57 277.97,405.16 273.23,405.16" fill="#fff" stroke="#000" stroke-width="1.35" stroke-linejoin="miter"/>
<circle cx="275.60" cy="407.50" r="2.85" fill="#fff" stroke="#000" stroke-width="1.35"/>
<polygon points="308.00,416.82 310.37,421.41 305.63,421.41" fill="#fff" stroke="#000" stroke-width="1.35" stroke-linejoin="miter"/>
<circle cx="308.00" cy="419.50" r="2.85" fill="#fff" stroke="#000" stroke-width="1.35"/>
<polygon points="332.30,436.07 334.67,440.66 329.93,440.66" fill="#fff" stroke="#000" stroke-width="1.35" stroke-linejoin="miter"/>
<circle cx="332.30" cy="433.25" r="2.85" fill="#fff" stroke="#000" stroke-width="1.35"/>
<polygon points="364.70,441.07 367.07,445.66 362.33,445.66" fill="#fff" stroke="#000" stroke-width="1.35" stroke-linejoin="miter"/>
<circle cx="364.70" cy="434.50" r="2.85" fill="#fff" stroke="#000" stroke-width="1.35"/>
<polygon points="389.00,436.02 391.37,440.61 386.63,440.61" fill="#fff" stroke="#000" stroke-width="1.35" stroke-linejoin="miter"/>
<circle cx="389.00" cy="426.00" r="2.85" fill="#fff" stroke="#000" stroke-width="1.35"/>
<polygon points="421.40,400.12 423.77,404.71 419.03,404.71" fill="#fff" stroke="#000" stroke-width="1.35" stroke-linejoin="miter"/>
<circle cx="421.40" cy="405.80" r="2.85" fill="#fff" stroke="#000" stroke-width="1.35"/>
<polygon points="445.70,394.22 448.07,398.81 443.33,398.81" fill="#fff" stroke="#000" stroke-width="1.35" stroke-linejoin="miter"/>
<circle cx="445.70" cy="396.90" r="2.85" fill="#fff" stroke="#000" stroke-width="1.35"/>
<polygon points="478.10,396.42 480.47,401.01 475.73,401.01" fill="#fff" stroke="#000" stroke-width="1.35" stroke-linejoin="miter"/>
<circle cx="478.10" cy="404.50" r="2.85" fill="#fff" stroke="#000" stroke-width="1.35"/>
<circle cx="502.40" cy="400.40" r="2.45" fill="#000" stroke="#000" stroke-width="1.35"/>
<polygon points="502.40,394.82 504.77,399.41 500.03,399.41" fill="#fff" stroke="#000" stroke-width="1.35" stroke-linejoin="miter"/>
</svg>
</body></html>
